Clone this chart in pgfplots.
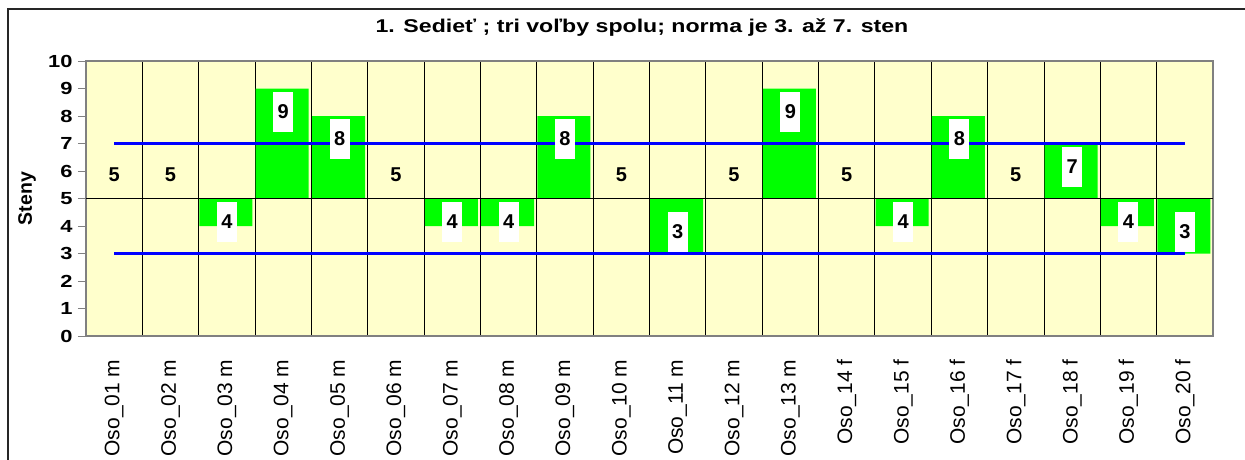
\documentclass[border=0pt]{standalone}
\usepackage{pgfplots}
\pgfplotsset{compat=1.18}
\usepackage{fontspec}
\setmainfont{Liberation Sans}
\definecolor{bgyellow}{HTML}{FFFFCC}
\definecolor{bargreen}{HTML}{00FF00}
\definecolor{normblue}{HTML}{0000FF}
\begin{document}
\begin{tikzpicture}
\path[use as bounding box] (0pt,0pt) rectangle (1245pt,-460pt);
\draw[line width=1.5pt, black!85] (8pt,-460pt) -- (8pt,-9pt) -- (1245pt,-9pt);
\node[font=\bfseries\fontsize{18.5}{20}\selectfont\addfontfeature{FakeStretch=1.25}] at (642pt,-28pt) {1. Sedieť ; tri voľby spolu; norma je 3. až 7. sten};
\begin{axis}[
  at={(86pt,-336pt)}, anchor=south west,
  scale only axis, width=1127pt, height=275pt,
  xmin=-0.5, xmax=19.5, ymin=0, ymax=10,
  axis background/.style={fill=bgyellow},
  axis line style={draw=gray, line width=1.5pt},
  /pgf/number format/assume math mode=true,
  ytick={0,...,10},
  ytick pos=left,
  xtick={0,...,19},
  xticklabels={Oso\_01 m,Oso\_02 m,Oso\_03 m,Oso\_04 m,Oso\_05 m,Oso\_06 m,Oso\_07 m,Oso\_08 m,Oso\_09 m,Oso\_10 m,Oso\_11 m,Oso\_12 m,Oso\_13 m,Oso\_14 f,Oso\_15 f,Oso\_16 f,Oso\_17 f,Oso\_18 f,Oso\_19 f,Oso\_20 f},
  minor xtick={0.5,1.5,...,18.5},
  xminorgrids=true,
  minor grid style={black, line width=0.8pt},
  minor tick length=0pt,
  xtick style={draw=none},
  ytick style={draw=gray, line width=1pt},
  tick align=outside,
  major tick length=8pt,
  yticklabel style={font=\bfseries\fontsize{17.5}{18}\selectfont\addfontfeature{FakeStretch=1.25}, xshift=-2pt},
  xticklabel style={font=\fontsize{21}{22}\selectfont, rotate=90, anchor=east, xshift=-12pt},
  every axis y label/.style={at={(axis description cs:-0.0523,0.5)}, rotate=90, anchor=center},
  ylabel={Steny},
  ylabel style={font=\bfseries\fontsize{19.5}{20}\selectfont},
  clip=false,
]
% invisible base of floating bars (bars start at 5)
\addplot[ybar stacked, bar width=53pt, bar shift=-1pt, draw=none, fill=none] coordinates {
(0,5)(1,5)(2,4)(3,5)(4,5)(5,5)(6,4)(7,4)(8,5)(9,5)(10,3)(11,5)(12,5)(13,5)(14,4)(15,5)(16,5)(17,5)(18,4)(19,3)};
% visible part of bars
\addplot[ybar stacked, bar width=53pt, bar shift=-1pt, draw=none, fill=bargreen] coordinates {
(0,0)(1,0)(2,1)(3,4)(4,3)(5,0)(6,1)(7,1)(8,3)(9,0)(10,2)(11,0)(12,4)(13,0)(14,1)(15,3)(16,0)(17,2)(18,1)(19,2)};
\draw[black, line width=0.8pt] (axis cs:-0.5,5) -- (axis cs:19.5,5);
\addplot[stack plots=false, normblue, line width=3pt] coordinates {(0,7) (19,7)};
\addplot[stack plots=false, normblue, line width=3pt] coordinates {(0,3) (19,3)};
% value labels with white box
\addplot[stack plots=false, draw=none, nodes near coords, point meta=explicit symbolic,
  nodes near coords style={anchor=center, fill=white, inner sep=0pt, minimum width=20pt, minimum height=40pt, font=\bfseries\fontsize{20}{22}\selectfont, text=black}]
  coordinates {
(2,4.15)[4] (3,8.15)[9] (4,7.16)[8] (6,4.15)[4] (7,4.15)[4] (8,7.16)[8] (10,3.78)[3]
(12,8.15)[9] (14,4.15)[4] (15,7.16)[8] (17,6.15)[7] (18,4.15)[4] (19,3.78)[3]};
% value labels without box (value 5)
\addplot[stack plots=false, draw=none, nodes near coords, point meta=explicit symbolic,
  nodes near coords style={anchor=center, inner sep=0pt, font=\bfseries\fontsize{20}{22}\selectfont, text=black}]
  coordinates {
(0,5.85)[5] (1,5.85)[5] (5,5.85)[5] (9,5.85)[5] (11,5.85)[5] (13,5.85)[5] (16,5.85)[5]};
\end{axis}
\end{tikzpicture}
\end{document}
